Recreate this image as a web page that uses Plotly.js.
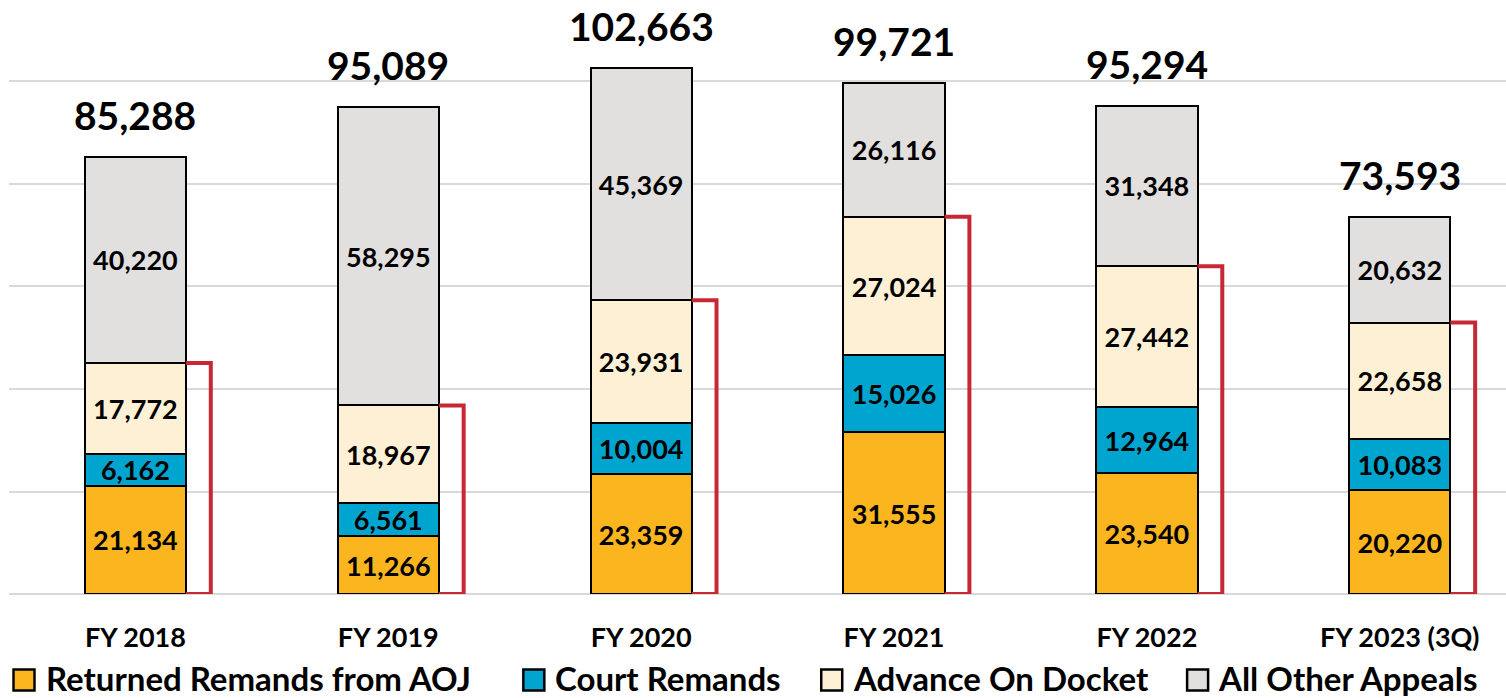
<!DOCTYPE html>
<html>
<head>
<meta charset="utf-8">
<script src="https://cdn.plot.ly/plotly-3.0.1.min.js"></script>
<style>html,body{margin:0;padding:0;background:#fff;}#chart{width:1506px;height:698px;}</style>
</head>
<body>
<div id="chart"></div>
<script>
const categories = ["FY 2018", "FY 2019", "FY 2020", "FY 2021", "FY 2022", "FY 2023 (3Q)"];
const returnedRemands = [21134, 11266, 23359, 31555, 23540, 20220];
const courtRemands = [6162, 6561, 10004, 15026, 12964, 10083];
const advanceOnDocket = [17772, 18967, 23931, 27024, 27442, 22658];
const allOtherAppeals = [40220, 58295, 45369, 26116, 31348, 20632];
const totals = [85288, 95089, 102663, 99721, 95294, 73593];

const seriesNames = ["Returned Remands from AOJ", "Court Remands", "Advance On Docket", "All Other Appeals"];
const seriesColors = ["#FBB51F", "#00A5CF", "#FEF0D5", "#E1E0DF"];
const seriesValues = [returnedRemands, courtRemands, advanceOnDocket, allOtherAppeals];

const FONT = "Lato, 'Open Sans', sans-serif";
const idx = categories.map((_, i) => i);
const fmt = v => v.toLocaleString('en-US');

const W = 1506, H = 698, ML = 8.5, MB = 104;
const plotW = W - ML, plotH = H - MB;
const px2x = p => (p - ML) / plotW;
const py2y = p => (plotH - p) / plotH;

const traces = seriesValues.map((vals, s) => ({
  type: 'bar',
  x: idx,
  y: vals,
  name: seriesNames[s],
  showlegend: false,
  width: 0.4,
  marker: {color: seriesColors[s], line: {color: '#000', width: 2}},
  text: vals.map(fmt),
  textposition: 'inside',
  insidetextanchor: 'middle',
  textangle: 0,
  constraintext: 'none',
  textfont: {family: FONT, size: 27, color: '#000', weight: 'bold'},
  hoverinfo: 'skip'
}));

const shapes = [];
idx.forEach(i => {
  const top = returnedRemands[i] + courtRemands[i] + advanceOnDocket[i];
  const xa = i + 0.2, xb = i + 0.298;
  shapes.push({
    type: 'path', xref: 'x', yref: 'y',
    path: `M${xa},${top} L${xb},${top} L${xb},0 L${xa},0`,
    line: {color: '#C62834', width: 4}
  });
});

const annotations = idx.map(i => ({
  x: i, y: totals[i], xref: 'x', yref: 'y',
  text: fmt(totals[i]), showarrow: false,
  yanchor: 'bottom', yshift: 17,
  font: {family: FONT, size: 39, color: '#000', weight: 'bold'}
}));

// manual legend (squares + labels)
const legendSquareLeft = [13, 523, 821, 1187];
const legendTextLeft = [45, 554, 852, 1217];
const legendCenterY = 680, sq = 21;
seriesNames.forEach((name, s) => {
  shapes.push({
    type: 'rect', xref: 'paper', yref: 'paper',
    x0: px2x(legendSquareLeft[s]), x1: px2x(legendSquareLeft[s] + sq),
    y0: py2y(legendCenterY + sq / 2), y1: py2y(legendCenterY - sq / 2),
    fillcolor: seriesColors[s], line: {color: '#000', width: 2.5}
  });
  annotations.push({
    xref: 'paper', yref: 'paper', x: px2x(legendTextLeft[s]), y: py2y(legendCenterY - 2),
    xanchor: 'left', yanchor: 'middle', showarrow: false, text: name, borderpad: 0,
    font: {family: FONT, size: 33, color: '#000', weight: 'bold'}
  });
});

const layout = {
  width: W, height: H,
  margin: {l: ML, r: 0, t: 0, b: MB},
  paper_bgcolor: '#fff', plot_bgcolor: '#fff',
  barmode: 'stack',
  showlegend: false,
  xaxis: {
    range: [-0.5, 5.42], tickvals: idx, ticktext: categories,
    showgrid: false, zeroline: false, showline: false, ticks: '',
    ticklabelstandoff: 25,
    tickfont: {family: FONT, size: 27, color: '#000', weight: 'bold'}
  },
  yaxis: {
    range: [0, 115900], dtick: 20000, showticklabels: false,
    showgrid: true, gridcolor: '#D9D9D9', gridwidth: 2,
    zeroline: true, zerolinecolor: '#D9D9D9', zerolinewidth: 2, showline: false
  },
  shapes: shapes,
  annotations: annotations
};

Plotly.newPlot('chart', traces, layout, {displayModeBar: false, staticPlot: true});
</script>
</body>
</html>
